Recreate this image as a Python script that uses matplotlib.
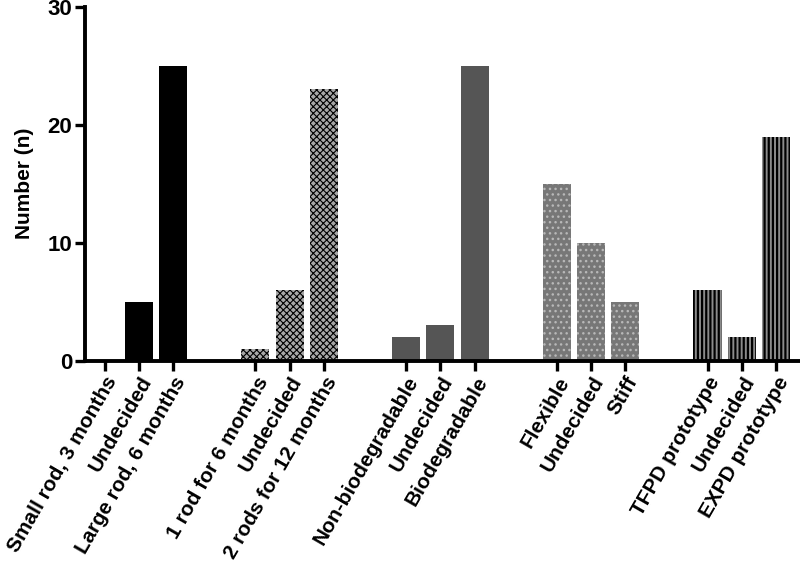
import matplotlib
matplotlib.use("Agg")
import matplotlib.pyplot as plt
import numpy as np

plt.rcParams['font.family'] = ['Liberation Sans', 'DejaVu Sans']
plt.rcParams['font.weight'] = 'bold'

categories = [
    ["Small rod, 3 months", "Undecided", "Large rod, 6 months"],
    ["1 rod for 6 months", "Undecided", "2 rods for 12 months"],
    ["Non-biodegradable", "Undecided", "Biodegradable"],
    ["Flexible", "Undecided", "Stiff"],
    ["TFPD prototype", "Undecided", "EXPD prototype"],
]
values = [
    [0, 5, 25],
    [1, 6, 23],
    [2, 3, 25],
    [15, 10, 5],
    [6, 2, 19],
]

styles = [
    dict(facecolor='black', edgecolor='black', hatch=None, hlw=1.0),
    dict(facecolor='#a8a8a8', edgecolor='black', hatch='xxxxx', hlw=0.8),
    dict(facecolor='#555555', edgecolor='#555555', hatch=None, hlw=1.0),
    dict(facecolor='#777777', edgecolor='#b8b8b8', hatch='...', hlw=1.0),
    dict(facecolor='#8c8c8c', edgecolor='black', hatch='||||', hlw=1.6),
]

fig = plt.figure(figsize=(8, 5.62), dpi=100)
ax = fig.add_axes([0.106, 0.358, 0.894, 0.63])

group_step = 4.4
xticks, xlabels = [], []
for g, (cats, vals) in enumerate(zip(categories, values)):
    xs = g * group_step + np.arange(len(vals))
    st = styles[g]
    with plt.rc_context({'hatch.linewidth': st['hlw']}):
        ax.bar(xs, vals, width=0.82, facecolor=st['facecolor'], edgecolor=st['edgecolor'],
               hatch=st['hatch'], linewidth=0)
    xticks.extend(xs)
    xlabels.extend(cats)

ax.set_xlim(-0.58, 4 * group_step + 2 + 0.7)
ax.set_ylim(0, 30)
ax.set_yticks([0, 10, 20, 30])
ax.set_xticks(xticks)
ax.set_xticklabels(xlabels, rotation=60, ha='right', rotation_mode='anchor', fontsize=15, fontweight='bold')
ax.tick_params(axis='y', labelsize=16, width=2.4, length=7, pad=2)
ax.tick_params(axis='x', width=2.4, length=7, pad=2)
for lab in ax.get_yticklabels():
    lab.set_fontweight('bold')
ax.set_ylabel("Number (n)", fontsize=15, fontweight='bold', labelpad=10)
ax.spines['top'].set_visible(False)
ax.spines['right'].set_visible(False)
ax.spines['left'].set_linewidth(2.8)
ax.spines['bottom'].set_linewidth(2.8)

fig.savefig("out.png", dpi=100)
